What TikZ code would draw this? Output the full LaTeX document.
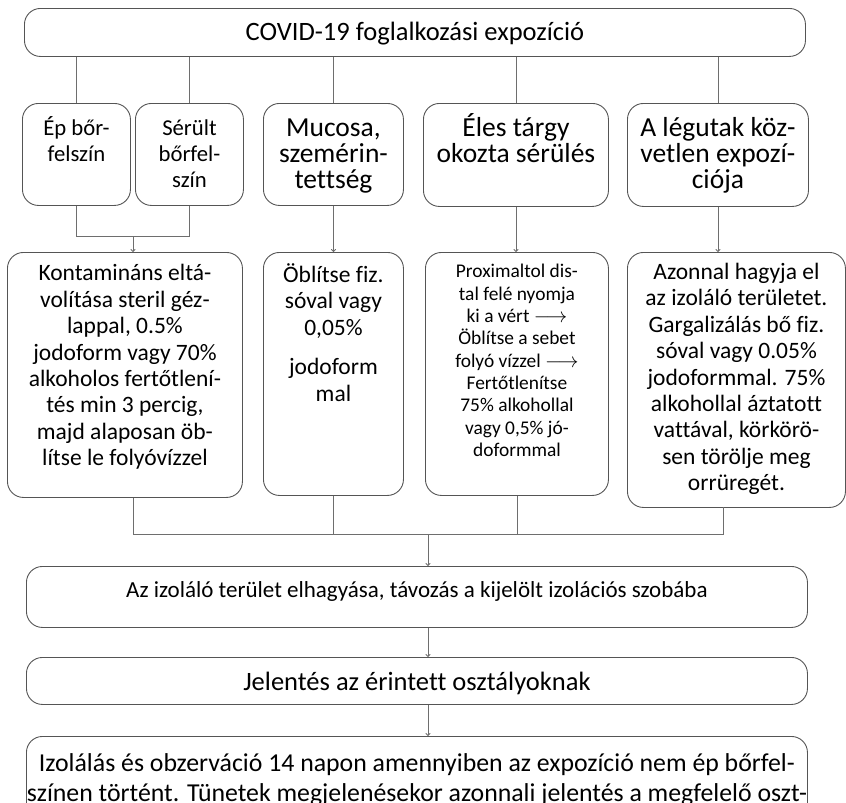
\documentclass[tikz,border=0pt]{standalone}
\usepackage{fontspec}
\setmainfont{Carlito}[Ligatures={TeX,NoCommon}]
\usetikzlibrary{arrows.meta}
\definecolor{boxc}{RGB}{85,85,85}
\definecolor{linec}{RGB}{110,110,110}
\lineskiplimit=-100pt
\newcommand{\mybox}[5]{\begin{minipage}[c][#2pt][t]{#1pt}\centering#4\lineskiplimit=-100pt\rule{0pt}{#3pt}#5\end{minipage}}
\newcommand{\ftitle}{\fontsize{26.5}{30}\selectfont}
\newcommand{\ftop}{\fontsize{27.5}{26}\selectfont}
\newcommand{\ftopn}{\fontsize{22.7}{26}\selectfont}
\newcommand{\fmid}{\fontsize{23.5}{26.4}\selectfont}
\newcommand{\fsmall}{\fontsize{19.4}{22.3}\selectfont}
\newcommand{\fiz}{\fontsize{23}{27}\selectfont}
\newcommand{\flast}{\fontsize{25.8}{30}\selectfont}
\begin{document}
\begin{tikzpicture}[x=1pt,y=-1pt,
  box/.style={draw=boxc, line width=0.9pt, rounded corners=16pt, inner sep=0pt, anchor=north west, fill=white},
  conn/.style={draw=linec, line width=0.9pt},
  arr/.style={conn, -{To[length=3pt,width=5pt]}}]
\useasboundingbox (0,0) rectangle (846,803);
\clip (0,0) rectangle (846,803);
\fill[white] (0,0) rectangle (846,803);
% top
\node[box] (top) at (24,8) {\mybox{781}{48}{32}{\ftitle}{COVID-19 foglalkozási expozíció}};
% row 1
\node[box] (ep) at (22,103) {\mybox{108}{102}{32}{\ftopn}{Ép bőr-\\felszín}};
\node[box] (ser) at (135,103) {\mybox{108}{102}{32}{\ftopn}{Sérült\\bőrfel-\\szín}};
\node[box] (muc) at (263,103) {\mybox{140}{102}{33}{\ftop}{Mucosa,\\szemérin-\\tettség}};
\node[box] (eles) at (423,103) {\mybox{185}{103}{33}{\ftop}{Éles tárgy\\okozta sérülés}};
\node[box] (leg) at (627,103) {\mybox{181}{103}{33}{\ftop}{A légutak köz-\\vetlen expozí-\\ciója}};
% row 2
\node[box] (kont) at (7,252) {\mybox{235}{245}{28.5}{\fmid}{Kontamináns eltá-\\volítása steril géz-\\lappal, 0.5\%\\jodoform vagy 70\%\\alkoholos fertőtlení-\\tés min 3 percig,\\majd alaposan öb-\\lítse le folyóvízzel}};
\node[box] (obl) at (263,252) {\mybox{140}{243}{30}{\fmid}{Öblítse fiz.\\sóval vagy\\0,05\%\par\vspace{13pt}jodoform\\mal}};
\node[box] (prox) at (425,252) {\mybox{183}{243}{25.5}{\fsmall}{Proximaltol dis-\\tal felé nyomja\\ki a vért $\longrightarrow$\\Öblítse a sebet\\folyó vízzel $\longrightarrow$\\Fertőtlenítse\\75\% alkohollal\\vagy 0,5\% jó-\\doformmal}};
\node[box] (azon) at (627,252) {\mybox{218}{255}{27}{\fmid}{Azonnal hagyja el\\az izoláló területet.\\Gargalizálás bő fiz.\\sóval vagy 0.05\%\\jodoformmal. 75\%\\alkohollal áztatott\\vattával, körkörö-\\sen törölje meg\\orrüregét.}};
% bottom
\node[box] (iz) at (26,566) {\mybox{781}{61}{31}{\fiz}{Az izoláló terület elhagyása, távozás a kijelölt izolációs szobába}};
\node[box] (jel) at (26,657) {\mybox{781}{47}{33}{\ftitle}{Jelentés az érintett osztályoknak}};
\node[box] (last) at (26,736) {\mybox{781}{110}{35}{\flast}{Izolálás és obzerváció 14 napon amennyiben az expozíció nem ép bőrfel-\\színen történt. Tünetek megjelenésekor azonnali jelentés a megfelelő oszt-}};
% connectors
\coordinate (j1) at (133,236);
\coordinate (j2) at (428,534);
\coordinate (azb) at (723,507);
\draw[conn] (top.south -| ep.north) -- (ep.north);
\draw[conn] (top.south -| ser.north) -- (ser.north);
\draw[conn] (top.south -| muc.north) -- (muc.north);
\draw[conn] (top.south -| eles.north) -- (eles.north);
\draw[conn] (top.south -| leg.north) -- (leg.north);
\draw[conn] (ep.south) |- (ser.south |- j1) -- (ser.south);
\draw[arr] (j1) -- (j1 |- kont.north);
\draw[arr] (muc.south) -- (muc.south |- obl.north);
\draw[arr] (eles.south) -- (eles.south |- prox.north);
\draw[arr] (leg.south) -- (leg.south |- azon.north);
\draw[conn] (kont.south -| j1) |- (azb |- j2) -- (azb);
\draw[conn] (obl.south) -- (obl.south |- j2);
\draw[conn] (prox.south) -- (prox.south |- j2);
\draw[arr] (j2) -- (j2 |- iz.north);
\draw[arr] (iz.south -| j2) -- (j2 |- jel.north);
\draw[arr] (jel.south -| j2) -- (j2 |- last.north);
\end{tikzpicture}
\end{document}
